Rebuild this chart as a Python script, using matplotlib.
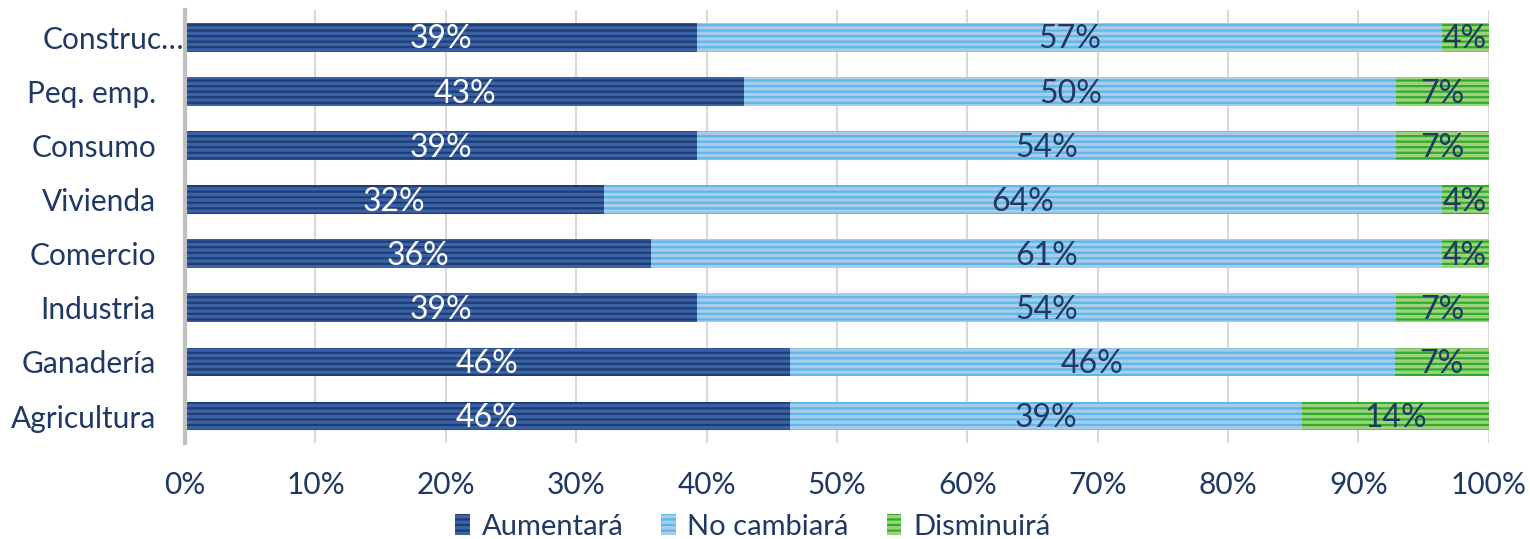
import matplotlib.pyplot as plt
import matplotlib.transforms as mtransforms
import numpy as np

categories = ['Construc…', 'Peq. emp.', 'Consumo', 'Vivienda',
              'Comercio', 'Industria', 'Ganadería', 'Agricultura']
aumentara = [39.3, 42.9, 39.3, 32.1, 35.7, 39.3, 46.4, 46.4]
no_cambiara = [57.1, 50.0, 53.6, 64.3, 60.7, 53.6, 46.4, 39.3]
disminuira = [3.6, 7.1, 7.1, 3.6, 3.6, 7.1, 7.2, 14.3]
series_names = ['Aumentará', 'No cambiará', 'Disminuirá']

navy = '#1F3864'
plt.rcParams['font.family'] = ['Lato', 'DejaVu Sans']
plt.rcParams['hatch.linewidth'] = 1.6

# base colour, stripe colour, label colour
styles = [('#3A62A6', '#1F3C73', 'white'),
          ('#A9CBEA', '#5AB8EA', navy),
          ('#9FD27E', '#2EAD2A', navy)]

fig = plt.figure(figsize=(15.3, 5.39), dpi=100)
ax = fig.add_axes([0.121, 0.178, 0.852, 0.803])

y = np.arange(len(categories))[::-1]
left = np.zeros(len(categories))
for name, vals, (fc, hc, tc) in zip(series_names,
                                     [aumentara, no_cambiara, disminuira],
                                     styles):
    vals = np.array(vals)
    ax.barh(y, vals, left=left, height=0.53, color=fc,
            edgecolor=hc, hatch='---', linewidth=0, label=name, zorder=3)
    for yi, l, v in zip(y, left, vals):
        ax.text(l + v / 2, yi - 0.04, '%d%%' % round(v), ha='center',
                va='center', color=tc, fontsize=23, zorder=4)
    left += vals

ax.set_xlim(0, 100)
ax.set_ylim(-0.5, len(categories) - 0.5)
ax.set_xticks(np.arange(0, 101, 10))
ax.set_xticklabels(['%d%%' % t for t in range(0, 101, 10)])
ax.set_yticks(y)
ax.set_yticklabels(categories)
ax.tick_params(axis='both', length=0, labelsize=21.5, colors=navy)
ax.tick_params(axis='x', pad=20)
ax.tick_params(axis='y', pad=21)
ax.grid(axis='x', color='#D9D9D9', linewidth=1.5, zorder=0)
for s in ['top', 'right', 'bottom']:
    ax.spines[s].set_visible(False)
ax.spines['left'].set_color('#BFBFBF')
ax.spines['left'].set_linewidth(3)
ax.spines['left'].set_zorder(5)

# the truncated label sticks out towards the axis, as in the source
first = ax.get_yticklabels()[0]
first.set_transform(first.get_transform() +
                    mtransforms.ScaledTranslation(0.28, 0, fig.dpi_scale_trans))

leg = fig.legend(loc='lower center', bbox_to_anchor=(0.492, -0.05), ncol=3,
                 frameon=False, fontsize=21, handlelength=0.5,
                 handleheight=0.75, handletextpad=0.4, columnspacing=1.3)
for t in leg.get_texts():
    t.set_color(navy)

fig.savefig('out.png', dpi=100)
